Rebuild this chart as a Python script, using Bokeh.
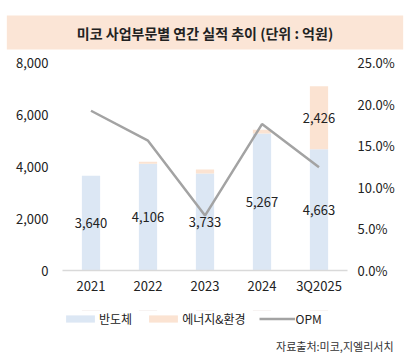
from bokeh.plotting import figure
from bokeh.layouts import column
from bokeh.models import (FactorRange, Range1d, LinearAxis, FixedTicker, NumeralTickFormatter,
                          PrintfTickFormatter, ColumnDataSource, Legend, LegendItem, Title)
from bokeh.core.properties import value
from bokeh.embed import file_html
from bokeh.resources import INLINE

# ---- data ----
years = ["2021", "2022", "2023", "2024", "3Q2025"]
semi = [3640, 4106, 3733, 5267, 4663]          # 반도체
energy = [0, 80, 150, 150, 2426]               # 에너지&환경
opm = [19.2, 15.6, 6.6, 17.6, 12.4]            # OPM (%)
left_ticks = [0, 2000, 4000, 6000, 8000]
right_ticks = [0, 5, 10, 15, 20, 25]
title_text = "미코 사업부문별 연간 실적 추이 (단위 : 억원)"
source_text = "자료출처:미코,지엘리서치"
series_names = ["반도체", "에너지&환경", "OPM"]

FONT = "Noto Sans CJK KR"
BLUE = "#DCE7F4"
ORANGE = "#FBE3D2"
GRAY = "#A3A3A3"
TXT = "#222222"

src = ColumnDataSource(dict(
    x=years, semi=semi, energy=energy, opm=opm,
    semi_mid=[s / 2 for s in semi],
    energy_mid=[s + e / 2 for s, e in zip(semi, energy)],
    semi_lbl=[f"{s:,}" for s in semi],
    energy_lbl=[f"{e:,}" if e >= 500 else "" for e in energy],
))

main = figure(frame_width=285, frame_height=208, output_backend="svg", toolbar_location=None,
              x_range=FactorRange(*years), y_range=Range1d(0, 8000),
              min_border_left=62, min_border_right=70, min_border_top=10, min_border_bottom=30)
main.outline_line_color = None
main.grid.grid_line_color = None
main.background_fill_color = "white"
main.border_fill_color = "white"
main.extra_y_ranges = {"pct": Range1d(0, 25)}

main.vbar_stack(["semi", "energy"], x="x", width=0.32, source=src,
                color=[BLUE, ORANGE], line_color=None)
main.line(x="x", y="opm", source=src, y_range_name="pct", line_color=GRAY, line_width=2.5)

for col_y, col_t in (("semi_mid", "semi_lbl"), ("energy_mid", "energy_lbl")):
    main.text(x="x", y=col_y, text=col_t, source=src, text_align="center",
              text_baseline="middle", text_font=value(FONT), text_font_size="13px",
              text_color=TXT)

# axes
xa = main.xaxis[0]
xa.axis_line_color = "#D9D9D9"
xa.axis_line_width = 1.5
xa.major_tick_line_color = None
xa.minor_tick_line_color = None
xa.major_tick_out = 0
xa.major_tick_in = 0
xa.major_label_standoff = 5
xa.major_label_text_font = FONT
xa.major_label_text_font_size = "13px"
xa.major_label_text_color = TXT

ya = main.yaxis[0]
ya.ticker = FixedTicker(ticks=left_ticks)
ya.formatter = NumeralTickFormatter(format="0,0")
ya.axis_line_color = None
ya.major_tick_line_color = None
ya.minor_tick_line_color = None
ya.major_tick_out = 0
ya.major_tick_in = 0
ya.major_label_standoff = 14
ya.major_label_text_font = FONT
ya.major_label_text_font_size = "13px"
ya.major_label_text_color = TXT

ra = LinearAxis(y_range_name="pct", ticker=FixedTicker(ticks=right_ticks),
                formatter=PrintfTickFormatter(format="%.1f%%"))
ra.axis_line_color = None
ra.major_tick_line_color = None
ra.minor_tick_line_color = None
ra.major_tick_out = 0
ra.major_tick_in = 0
ra.major_label_standoff = 10
ra.major_label_text_font = FONT
ra.major_label_text_font_size = "13px"
ra.major_label_text_color = TXT
main.add_layout(ra, "right")

main.title = Title(text=title_text, align="center", text_font=FONT, text_font_size="14px",
                   text_font_style="bold", text_color=TXT, background_fill_color="#FBE5D6",
                   padding=(70, 7), standoff=26)

# ---- legend + source strip (same series, drawn outside its visible range) ----
foot = figure(width=417, height=55, output_backend="svg", toolbar_location=None,
              x_range=main.x_range, y_range=Range1d(-2, -1),
              x_axis_type=None, y_axis_type=None,
              min_border_left=0, min_border_right=0, min_border_top=10, min_border_bottom=0)
foot.outline_line_color = None
foot.grid.grid_line_color = None
foot.border_fill_color = "white"
foot.background_fill_color = "white"
f_bars = foot.vbar_stack(["semi", "energy"], x="x", width=0.32, source=src,
                         color=[BLUE, ORANGE], line_color=None)
f_line = foot.line(x="x", y="opm", source=src, line_color=GRAY, line_width=2.5)

legend = Legend(items=[LegendItem(label=series_names[0], renderers=[f_bars[0]]),
                       LegendItem(label=series_names[1], renderers=[f_bars[1]]),
                       LegendItem(label=series_names[2], renderers=[f_line])],
                orientation="horizontal", location="top_left",
                glyph_width=36, glyph_height=9, label_standoff=1, spacing=13,
                padding=8, margin=0, border_line_color=None, background_fill_alpha=0,
                label_text_font=FONT, label_text_font_size="12px", label_text_color=TXT)
foot.add_layout(legend)

foot.add_layout(Title(text=source_text, align="right", offset=-46, vertical_align="bottom",
                      text_font=FONT, text_font_size="11px", text_font_style="normal",
                      text_color="#333333", standoff=4), "below")

p = column(main, foot, spacing=0)
open("out.html", "w").write(file_html(p, INLINE))
